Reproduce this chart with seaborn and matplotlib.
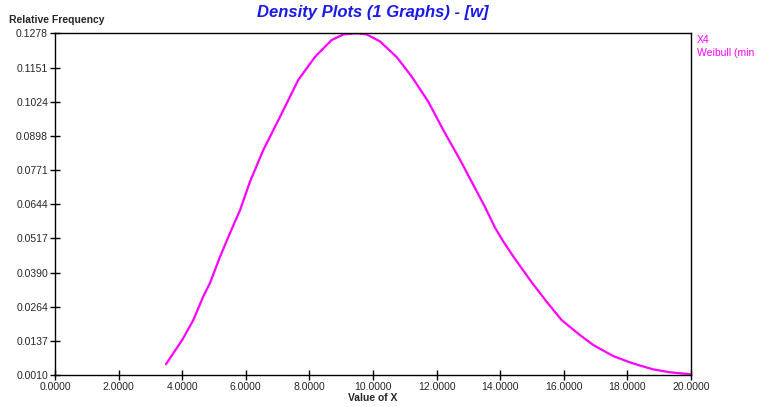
import numpy as np
import pandas as pd
import matplotlib
matplotlib.use("Agg")
import matplotlib.pyplot as plt
import seaborn as sns

# values
x_vals = [3.49, 4.00, 4.35, 4.66, 4.87, 5.19, 5.50, 5.82, 6.13, 6.55, 7.08, 7.65,
          8.18, 8.70, 9.07, 9.49, 9.80, 10.22, 10.75, 11.22, 11.74, 12.21, 12.74,
          13.21, 13.52, 13.84, 14.10, 14.41, 14.73, 14.99, 15.46, 15.93, 16.51,
          16.93, 17.56, 18.03, 18.34, 18.81, 19.34, 19.97]
density = [0.0050, 0.0140, 0.0214, 0.0301, 0.0350, 0.0449, 0.0536, 0.0622, 0.0727,
           0.0845, 0.0969, 0.1105, 0.1191, 0.1253, 0.1274, 0.1278, 0.1274, 0.1248,
           0.1189, 0.1117, 0.1024, 0.0919, 0.0808, 0.0703, 0.0634, 0.0556, 0.0505,
           0.0450, 0.0397, 0.0354, 0.0282, 0.0214, 0.0158, 0.0121, 0.0080, 0.0059,
           0.0047, 0.0031, 0.0020, 0.0013]
y_ticks = [0.0010, 0.0137, 0.0264, 0.0390, 0.0517, 0.0644, 0.0771, 0.0898,
           0.1024, 0.1151, 0.1278]
x_ticks = [0, 2, 4, 6, 8, 10, 12, 14, 16, 18, 20]
legend_lines = ["X4", "Weibull (min"]

df = pd.DataFrame({"x": x_vals, "y": density})

sns.set_style("white")
plt.rcParams['font.family'] = ['Liberation Sans', 'DejaVu Sans']

W, H = 757, 407
fig = plt.figure(figsize=(W / 100, H / 100), dpi=100)
ax = fig.add_axes([55 / W, (H - 375) / H, (691 - 55) / W, (375 - 33.3) / H])

sns.lineplot(data=df, x="x", y="y", ax=ax, color="#ff00ff", linewidth=1.6)

ax.set_xlim(0, 20)
ax.set_ylim(0.0010, 0.1278)
ax.set_xticks(x_ticks)
ax.set_xticklabels(["%.4f" % v for v in x_ticks])
ax.set_yticks(y_ticks)
ax.set_yticklabels(["%.4f" % v for v in y_ticks])
ax.tick_params(direction="inout", length=7, width=1, labelsize=7.5, color="black",
               pad=1.5, left=True, bottom=True)
for s in ax.spines.values():
    s.set_color("black")
    s.set_linewidth(1)

ax.set_xlabel("Value of X", fontsize=7.5, fontweight="bold", labelpad=1)
ax.set_ylabel("")
fig.text(9 / W, 1 - 20 / H, "Relative Frequency", fontsize=7.5, fontweight="bold",
         va="center", ha="left")
fig.text(373 / W, 1 - 12 / H, "Density Plots (1 Graphs) - [w]", fontsize=12,
         fontweight="bold", style="italic", color="#1a1ae6", ha="center", va="center")
for i, t in enumerate(legend_lines):
    fig.text(697 / W, 1 - (40 + 13 * i) / H, t, fontsize=7.5, color="#ff00ff",
             ha="left", va="center")

fig.savefig("out.png", dpi=100)
